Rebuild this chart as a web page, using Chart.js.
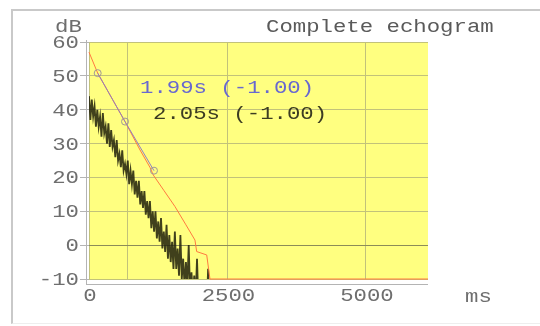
<!DOCTYPE html>
<html>
<head>
<meta charset="utf-8">
<script src="https://cdn.jsdelivr.net/npm/chart.js@4.4.0/dist/chart.umd.min.js"></script>
<style>
    body { margin: 0; background: #fff; }
    #frame {
        position: absolute; left: 11px; top: 9px; width: 540px; height: 312px;
        border-top: 2px solid #c9c9c9; border-left: 2px solid #c9c9c9;
        border-bottom: 1px solid #eeeeee;
    }
    #chart { position: absolute; left: 0; top: 0; }
</style>
</head>
<body>
<div id="frame"></div>
<canvas id="chart" width="540" height="326"></canvas>
<script>
// echogram (dB), one sample every 25 ms from 0 ms
const echoStepMs = 25;
const echoDb = [
    44, 37, 43, 38, 41, 35, 40, 35, 38, 32, 39, 33, 35, 30, 36, 29,
    34, 29, 31, 26, 31, 25, 27, 23, 28, 22, 24, 21, 25, 18, 22, 18,
    22, 15, 19, 14, 19, 12, 16, 11, 16, 9, 13, 8, 13, 5, 10, 4,
    10, 2, 7, 1, 8, -1, 4, -2, 6, -4, 3, -5, 1, -7, 4, -7,
    -1, -9, 3, -10, -4, -12, -5, -12, 0, -14, -8, -15, -9, -16, -4, -17,
    -12, -18, -11, -19, -14, -20, -7, -21, -22
];

// integrated decay curve
const decayMs = [0, 157, 650, 921, 1100, 1161, 1350, 1552, 1750, 1913, 1944, 2125, 2184, 6120];
const decayDb = [57, 50.8, 36.5, 28.1, 23, 20.7, 16.2, 11.4, 6, 1.5, -1.9, -2.9, -10, -10];

// regression points
const fitMs = [157, 650, 1173];
const fitDb = [50.8, 36.5, 22.0];

// axes
const xMax = 6120;
const xGridValues = [0, 700, 2500, 5000];
const xLabelValues = [0, 2500, 5000];
const yMin = -10, yMax = 60, yStep = 10;

const chartTitle = 'Complete echogram';
const yUnit = 'dB';
const xUnit = 'ms';
const notes = [
    { text: '1.99s (-1.00)', color: '#6868d0', x: 140, y: 93 },
    { text: '2.05s (-1.00)', color: '#3c3c22', x: 153, y: 119 }
];

const FONT = '18px "Liberation Mono", monospace';
const SX = 1.24;

function drawText(ctx, str, x, y, align, color) {
    ctx.save();
    ctx.translate(x, y);
    ctx.scale(SX, 1);
    ctx.font = FONT;
    ctx.fillStyle = color;
    ctx.textAlign = align;
    ctx.textBaseline = 'alphabetic';
    ctx.fillText(str, 0, 0);
    ctx.restore();
}

const echoPlugin = {
    id: 'echo',
    beforeDraw(chart) {
        const { ctx, chartArea: a } = chart;
        ctx.save();
        ctx.fillStyle = '#ffff80';
        ctx.fillRect(a.left, a.top, a.right - a.left, a.bottom - a.top);
        ctx.restore();
    },
    afterDraw(chart) {
        const { ctx, chartArea: a } = chart;
        const xs = chart.scales.x, ys = chart.scales.y;

        // detached axis lines
        ctx.save();
        ctx.strokeStyle = '#b4b4b4';
        ctx.lineWidth = 1;
        ctx.beginPath();
        ctx.moveTo(a.left - 2.5, a.top - 2);
        ctx.lineTo(a.left - 2.5, a.bottom + 6);
        ctx.moveTo(a.left - 3, a.bottom + 5.5);
        ctx.lineTo(a.right, a.bottom + 5.5);
        ctx.stroke();
        ctx.restore();

        ys.ticks.forEach(t => drawText(ctx, String(t.value), a.left - 10, ys.getPixelForValue(t.value) + 6, 'right', '#6e6e6e'));
        xLabelValues.forEach(v => drawText(ctx, String(v), xs.getPixelForValue(v) + 1, 301, 'center', '#6e6e6e'));

        drawText(ctx, yUnit, 55, 32, 'left', '#6e6e6e');
        drawText(ctx, xUnit, 465, 302, 'left', '#6e6e6e');
        drawText(ctx, chartTitle, 266, 32, 'left', '#5a5a5a');
        notes.forEach(n => drawText(ctx, n.text, n.x, n.y, 'left', n.color));
    }
};

new Chart(document.getElementById('chart'), {
    type: 'line',
    data: {
        datasets: [
            {
                label: 'fit',
                data: fitMs.map((t, i) => ({ x: t, y: fitDb[i] })),
                borderColor: '#9080c0',
                borderWidth: 1,
                pointRadius: 3.5,
                pointBorderColor: '#a09898',
                pointBackgroundColor: 'rgba(0,0,0,0)',
                pointBorderWidth: 1,
                order: 0
            },
            {
                label: 'decay',
                data: decayMs.map((t, i) => ({ x: t, y: decayDb[i] })),
                borderColor: '#ff7a40',
                borderWidth: 1,
                pointRadius: 0,
                clip: 1,
                order: 1
            },
            {
                label: 'echogram',
                data: echoDb.map((v, i) => ({ x: i * echoStepMs, y: v })),
                borderColor: 'rgba(30,30,10,0.85)',
                borderWidth: 1.8,
                pointRadius: 0,
                order: 2
            }
        ]
    },
    options: {
        responsive: false,
        animation: false,
        events: [],
        layout: { padding: { left: 0, right: 112, top: 42, bottom: 0 } },
        plugins: {
            legend: { display: false },
            tooltip: { enabled: false }
        },
        scales: {
            x: {
                type: 'linear',
                min: 0,
                max: xMax,
                afterFit: (s) => { s.height = 47; },
                afterBuildTicks: (s) => { s.ticks = xGridValues.map(v => ({ value: v })); },
                ticks: { display: false },
                border: { display: false },
                grid: { color: '#c2c27a', drawTicks: false }
            },
            y: {
                min: yMin,
                max: yMax,
                afterFit: (s) => { s.width = 89; },
                ticks: { display: false, stepSize: yStep },
                border: { display: false },
                grid: {
                    color: (c) => c.tick && c.tick.value === 0 ? '#8c8c58' : '#c2c27a',
                    tickLength: 9,
                    tickColor: '#b4b4b4'
                }
            }
        }
    },
    plugins: [echoPlugin]
});
</script>
</body>
</html>
